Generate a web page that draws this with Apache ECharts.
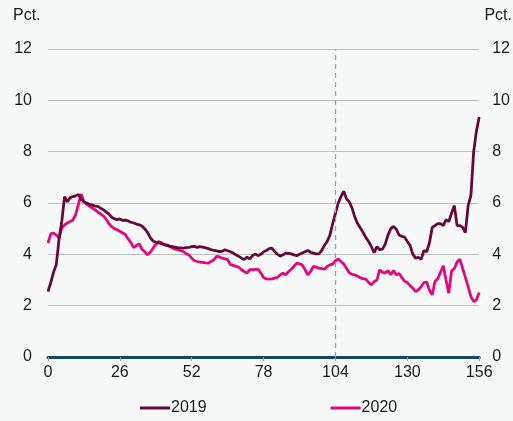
<!DOCTYPE html>
<html>
<head>
<meta charset="utf-8">
<script src="https://cdn.jsdelivr.net/npm/echarts@6/dist/echarts.min.js"></script>
<style>
  html, body { margin: 0; padding: 0; background: #f7f9f9; }
  #chart { width: 513px; height: 421px; }
</style>
</head>
<body>
<div id="chart"></div>
<script>
// uger 0..156
var weeks = [];
for (var i = 0; i <= 156; i++) weeks.push(i);

var xTicks = [0, 26, 52, 78, 104, 130, 156];
var yTicks = [0, 2, 4, 6, 8, 10, 12];

var s2019 = [
  2.55, 2.9, 3.3, 3.6, 4.6, 5.3, 6.25, 6.05, 6.2, 6.25,
  6.28, 6.33, 6.15, 6.05, 6.0, 5.95, 5.92, 5.88, 5.87, 5.8,
  5.74, 5.65, 5.58, 5.45, 5.38, 5.35, 5.38, 5.32, 5.33, 5.3,
  5.25, 5.22, 5.18, 5.15, 5.1, 5.0, 4.85, 4.65, 4.52, 4.47,
  4.45, 4.42, 4.38, 4.36, 4.32, 4.3, 4.28, 4.25, 4.25, 4.24,
  4.26, 4.27, 4.3, 4.31, 4.27, 4.3, 4.28, 4.25, 4.22, 4.18,
  4.15, 4.13, 4.11, 4.12, 4.18, 4.14, 4.1, 4.05, 3.98, 3.92,
  3.85, 3.8, 3.89, 3.82, 3.95, 4.02, 3.95, 4.0, 4.1, 4.15,
  4.22, 4.24, 4.1, 4.0, 3.93, 3.98, 4.05, 4.04, 4.02, 3.98,
  3.95, 4.0, 4.05, 4.1, 4.15, 4.08, 4.05, 4.02, 4.02, 4.15,
  4.35, 4.5, 4.75, 5.2, 5.6, 6.0, 6.25, 6.46, 6.16, 6.05,
  5.8, 5.45, 5.2, 5.03, 4.85, 4.65, 4.5, 4.3, 4.07, 4.3,
  4.18, 4.2, 4.4, 4.75, 5.0, 5.09, 4.98, 4.75, 4.7, 4.67,
  4.5, 4.35, 4.0, 3.85, 3.88, 3.81, 4.15, 4.1, 4.45, 5.05,
  5.12, 5.2, 5.2, 5.12, 5.35, 5.28, 5.6, 5.9, 5.12, 5.12,
  5.05, 4.85, 5.9, 6.3, 8.0, 8.8, 9.35
];

var s2020 = [
  4.44, 4.8, 4.83, 4.75, 4.64, 5.03, 5.15, 5.22, 5.28, 5.33,
  5.55, 5.95, 6.35, 6.05, 5.95, 5.88, 5.8, 5.74, 5.65, 5.58,
  5.5, 5.38, 5.2, 5.08, 5.0, 4.96, 4.9, 4.83, 4.77, 4.6,
  4.45, 4.26, 4.35, 4.41, 4.2, 4.1, 3.98, 4.08, 4.24, 4.38,
  4.5, 4.45, 4.38, 4.35, 4.31, 4.25, 4.2, 4.18, 4.14, 4.11,
  4.02, 3.98, 3.85, 3.75, 3.72, 3.7, 3.69, 3.67, 3.66, 3.72,
  3.79, 3.92, 3.9, 3.85, 3.82, 3.79, 3.6, 3.57, 3.53, 3.5,
  3.4, 3.33, 3.27, 3.4, 3.4, 3.41, 3.42, 3.27, 3.1, 3.04,
  3.03, 3.04, 3.07, 3.1, 3.2, 3.27, 3.2, 3.32, 3.42, 3.53,
  3.66, 3.63, 3.59, 3.4, 3.2, 3.33, 3.53, 3.5, 3.46, 3.44,
  3.42, 3.53, 3.59, 3.62, 3.75, 3.82, 3.72, 3.62, 3.45, 3.28,
  3.22, 3.2, 3.15, 3.08, 3.05, 3.03, 2.9, 2.81, 2.94, 3.0,
  3.4, 3.3, 3.27, 3.37, 3.2, 3.37, 3.2, 3.25, 3.1, 2.95,
  2.9, 2.78, 2.68, 2.55, 2.62, 2.74, 2.9, 2.92, 2.6, 2.42,
  2.94, 3.05, 3.3, 3.55, 3.0, 2.49, 3.35, 3.45, 3.7, 3.81,
  3.45, 3.1, 2.74, 2.35, 2.16, 2.23, 2.51
];

var markWeek = 104;

function pairs(vals) {
  return vals.map(function (v, i) { return [weeks[i], v]; });
}

var chart = echarts.init(document.getElementById("chart"));

var font = "'Liberation Sans', Arial, sans-serif";
var yAxisBase = {
  type: "value",
  min: yTicks[0],
  max: yTicks[yTicks.length - 1],
  interval: yTicks[1] - yTicks[0],
  axisLine: { show: false },
  axisTick: { show: false },
  axisLabel: { color: "#1a1a1a", fontSize: 16, fontFamily: font }
};

var option = {
  backgroundColor: "#f7f9f9",
  animation: false,
  grid: { left: 48, right: 33, top: 49, bottom: 64 },
  graphic: [
    { type: "text", left: 13, top: 8, style: { text: "Pct.", fontSize: 16, fontFamily: font, fill: "#1a1a1a" } },
    { type: "text", right: 1, top: 8, style: { text: "Pct.", fontSize: 16, fontFamily: font, fill: "#1a1a1a" } }
  ],
  legend: {
    bottom: 0,
    left: 135,
    itemGap: 124,
    itemWidth: 30,
    itemHeight: 3,
    icon: "rect",
    textStyle: { color: "#1a1a1a", fontSize: 16, fontFamily: font, padding: [0, 0, 0, -4] },
    data: ["2019", "2020"]
  },
  xAxis: {
    type: "value",
    min: xTicks[0],
    max: xTicks[xTicks.length - 1],
    interval: xTicks[1] - xTicks[0],
    axisLine: { onZero: false, lineStyle: { color: "#124866", width: 3 } },
    axisTick: { show: true, length: 4, lineStyle: { color: "#999", width: 1 } },
    axisLabel: { color: "#1a1a1a", fontSize: 16, fontFamily: font, margin: 8 },
    splitLine: { show: false }
  },
  yAxis: [
    Object.assign({}, yAxisBase, {
      position: "left",
      splitLine: { lineStyle: { color: "#bdbdbd", width: 1 } },
      axisLabel: Object.assign({}, yAxisBase.axisLabel, { margin: 16 })
    }),
    Object.assign({}, yAxisBase, {
      position: "right",
      splitLine: { show: false },
      axisLabel: Object.assign({}, yAxisBase.axisLabel, { margin: 13 })
    })
  ],
  series: [
    {
      name: "2019",
      type: "line",
      data: pairs(s2019),
      showSymbol: false,
      z: 3,
      lineStyle: { color: "#660a3c", width: 2.8 },
      itemStyle: { color: "#660a3c" },
      markLine: {
        silent: true,
        symbol: "none",
        label: { show: false },
        lineStyle: { color: "#a0a0a0", type: [5, 4], width: 1.2 },
        data: [{ xAxis: markWeek }]
      }
    },
    {
      name: "2020",
      type: "line",
      data: pairs(s2020),
      showSymbol: false,
      z: 2,
      lineStyle: { color: "#e5077f", width: 2.8 },
      itemStyle: { color: "#e5077f" }
    }
  ]
};

chart.setOption(option);
</script>
</body>
</html>
